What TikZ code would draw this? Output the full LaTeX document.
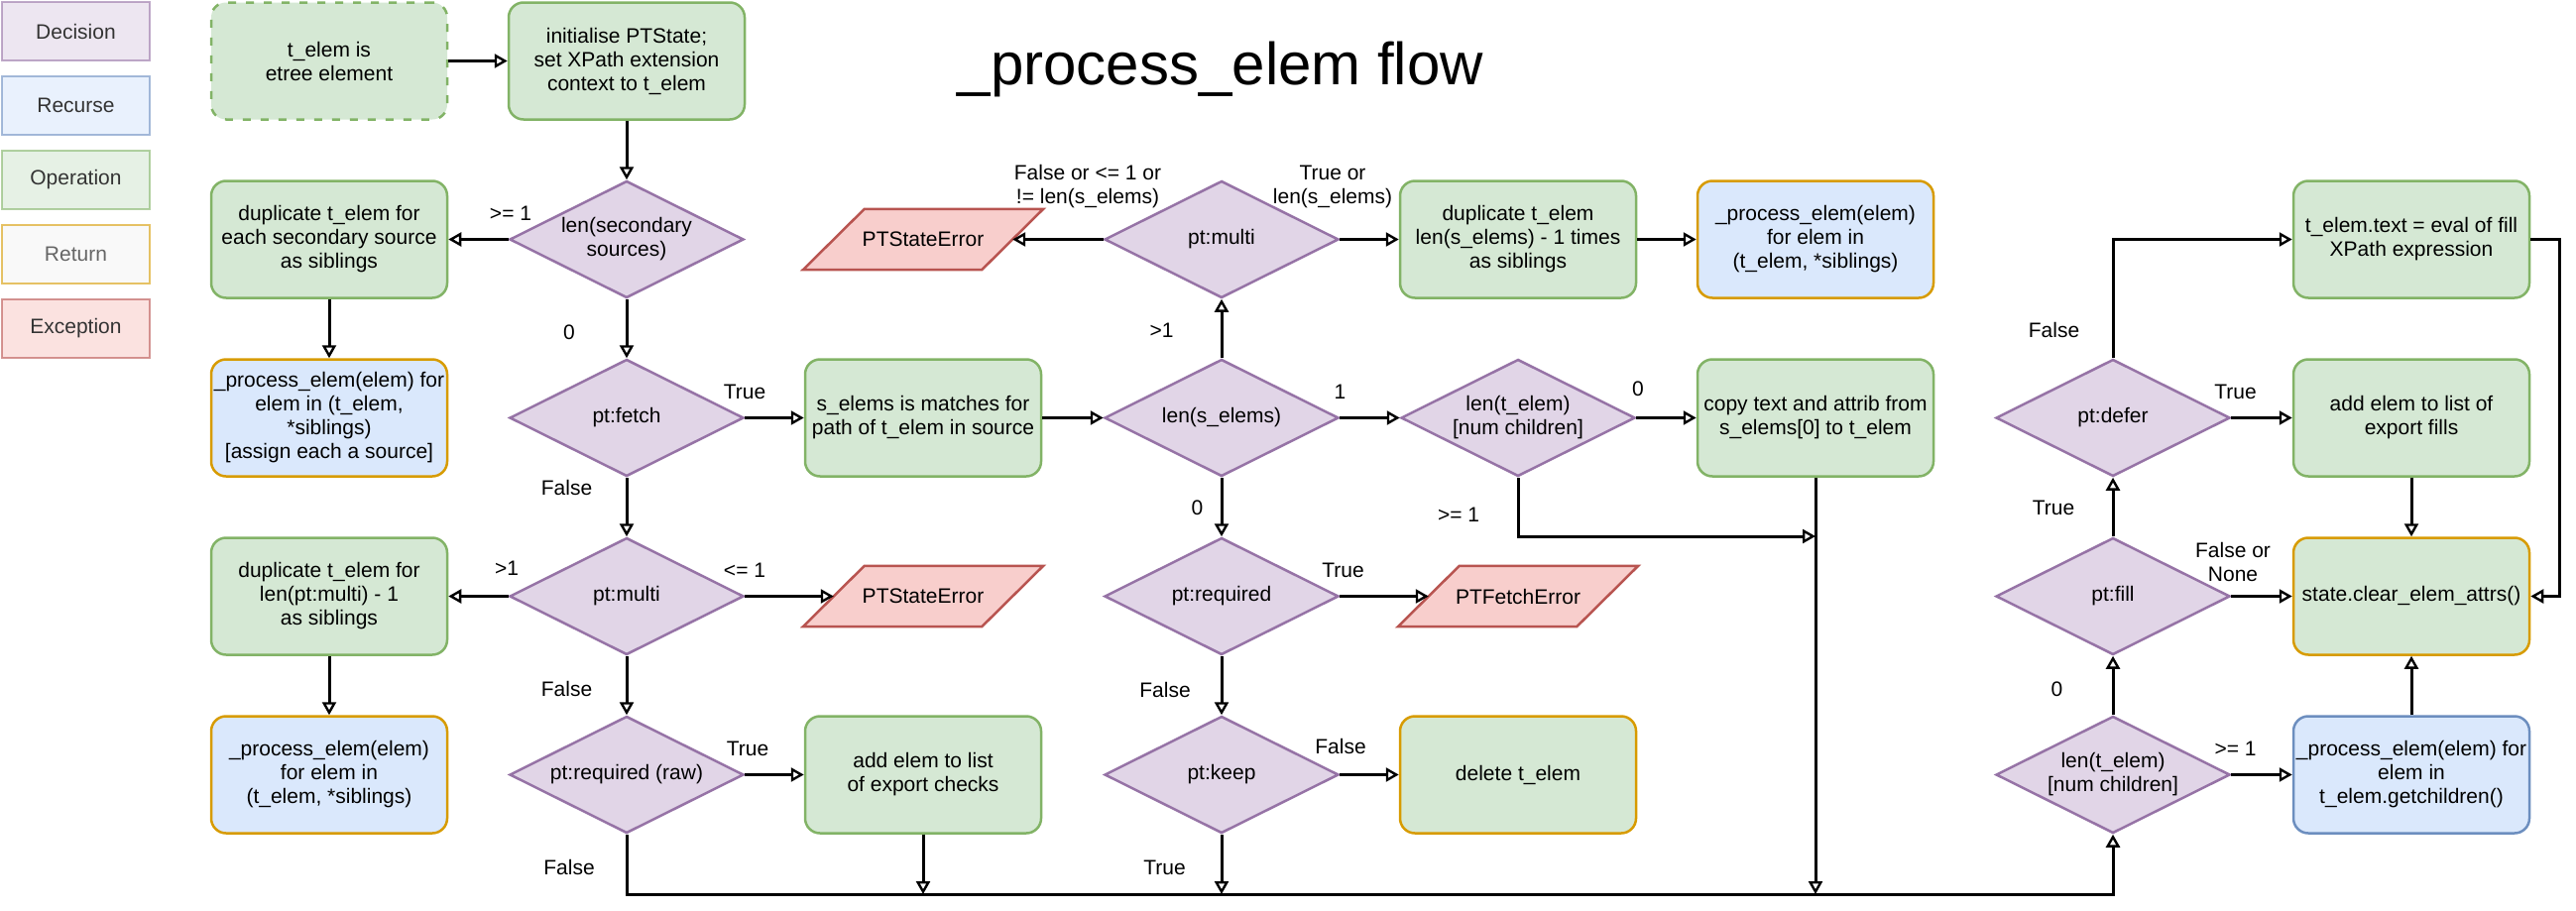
\documentclass[tikz,border=0pt]{standalone}
\usepackage{fontspec}
\setmainfont{Liberation Sans}
\usetikzlibrary{shapes.geometric,arrows.meta,backgrounds}
\definecolor{decF}{HTML}{E1D5E7}
\definecolor{decD}{HTML}{9673A6}
\definecolor{recF}{HTML}{DAE8FC}
\definecolor{recD}{HTML}{6C8EBF}
\definecolor{opF}{HTML}{D5E8D4}
\definecolor{opD}{HTML}{82B366}
\definecolor{retF}{HTML}{F5F5F5}
\definecolor{retD}{HTML}{D79B00}
\definecolor{excF}{HTML}{F8CECC}
\definecolor{excD}{HTML}{B85450}
\definecolor{legT}{HTML}{333333}
\definecolor{legR}{HTML}{666666}
\begin{document}
\begin{tikzpicture}[x=1pt,y=-1pt,
  every node/.style={font=\fontsize{21}{24}\selectfont, inner sep=0pt, align=center},
  box/.style={rectangle, rounded corners=15pt, minimum width=238pt, minimum height=118pt, line width=2.5pt},
  opbox/.style={box, fill=opF, draw=opD},
  recbox/.style={box, fill=recF, draw=retD},
  decis/.style={diamond, aspect=2, minimum width=236pt, minimum height=118pt, fill=decF, draw=decD, line width=2.5pt},
  legbox/.style={rectangle, minimum width=149pt, minimum height=59pt, line width=2.5pt, fill opacity=0.6, draw opacity=0.6, text opacity=1, text=legT},
  excbox/.style={rectangle, minimum width=180pt, minimum height=61pt},
  excshape/.style={fill=excF, draw=excD, line width=2.5pt},
  edge/.style={line width=3pt, -{Triangle[open, fill=white, length=13pt, width=14pt, line width=2.4pt]}},
  lbl/.style={font=\fontsize{21}{24}\selectfont}
]
\useasboundingbox (0,0) rectangle (2598,918);

% legend
\node[legbox, fill=decF, draw=decD] (lgdec) at (76.5,31.5) {Decision};
\node[legbox, fill=recF, draw=recD] (lgrec) at (76.5,106.5) {Recurse};
\node[legbox, fill=opF, draw=opD] (lgop) at (76.5,181.5) {Operation};
\node[legbox, fill=retF, draw=retD, text=legR] (lgret) at (76.5,256.5) {Return};
\node[legbox, fill=excF, draw=excD] (lgexc) at (76.5,331.5) {Exception};

% title
\node[font=\fontsize{60}{70}\selectfont, anchor=base] (title) at (1231,85) {\_process\_elem flow};

% column 1 & 2
\node[opbox, dash pattern=on 8pt off 10pt] (telem) at (332,61.5) {t\_elem is\\etree element};
\node[opbox] (init) at (632,61.5) {initialise PTState;\\set XPath extension\\context to t\_elem};
\node[decis] (lensec) at (632,241.5) {len(secondary\\sources)};
\node[opbox] (dupsec) at (332,241.5) {duplicate t\_elem for\\each secondary source\\as siblings};
\node[recbox] (procsec) at (332,421.5) {\_process\_elem(elem) for\\elem in (t\_elem,\\*siblings)\\{}[assign each a source]};
\node[decis] (fetch) at (632,421.5) {pt:fetch};
\node[decis] (multi1) at (632,601.5) {pt:multi};
\node[opbox] (dupmulti) at (332,601.5) {duplicate t\_elem for\\len(pt:multi) - 1\\as siblings};
\node[recbox] (procmulti) at (332,781.5) {\_process\_elem(elem)\\for elem in\\(t\_elem, *siblings)};
\node[decis] (reqraw) at (632,781.5) {pt:required (raw)};

% column 3
\node[excbox] (err2) at (931,241.5) {PTStateError};
\node[opbox] (smatch) at (931,421.5) {s\_elems is matches for\\path of t\_elem in source};
\node[excbox] (err1) at (931,601.5) {PTStateError};
\node[opbox] (exportchk) at (931,781.5) {add elem to list\\of export checks};

% column 4
\node[decis] (multi2) at (1232,241.5) {pt:multi};
\node[decis] (lens) at (1232,421.5) {len(s\_elems)};
\node[decis] (req) at (1232,601.5) {pt:required};
\node[decis] (keep) at (1232,781.5) {pt:keep};

% column 5
\node[opbox] (dupse) at (1531,241.5) {duplicate t\_elem\\len(s\_elems) - 1 times\\as siblings};
\node[decis] (lent1) at (1531,421.5) {len(t\_elem)\\{}[num children]};
\node[excbox] (fetcherr) at (1531,601.5) {PTFetchError};
\node[box, fill=opF, draw=retD] (delete) at (1531,781.5) {delete t\_elem};

% column 6
\node[recbox] (procse) at (1831,241.5) {\_process\_elem(elem)\\for elem in\\(t\_elem, *siblings)};
\node[opbox] (copy) at (1831,421.5) {copy text and attrib from\\s\_elems[0] to t\_elem};

% column 7
\node[decis] (defer) at (2131,421.5) {pt:defer};
\node[decis] (fill) at (2131,601.5) {pt:fill};
\node[decis] (lent2) at (2131,781.5) {len(t\_elem)\\{}[num children]};

% column 8
\node[opbox] (evalfill) at (2432,241.5) {t\_elem.text = eval of fill\\XPath expression};
\node[opbox] (expfills) at (2432,421.5) {add elem to list of\\export fills};
\node[box, fill=opF, draw=retD] (clear) at (2432,601.5) {state.clear\_elem\_attrs()};
\node[box, fill=recF, draw=recD] (procchild) at (2432,781.5) {\_process\_elem(elem) for\\elem in\\t\_elem.getchildren()};

% parallelogram outlines
\begin{pgfonlayer}{background}
\foreach \n in {err1,err2,fetcherr}{
  \draw[excshape] ([xshift=31pt]\n.north west) -- ([xshift=31pt]\n.north east)
     -- ([xshift=-31pt]\n.south east) -- ([xshift=-31pt]\n.south west) -- cycle;
}
\end{pgfonlayer}

% junction coordinates
\coordinate (bot) at (632,902);
\coordinate (j1) at (1831,541);

% edges
\draw[edge] (telem.east) -- (init.west);
\draw[edge] (init.south) -- (lensec.north);
\draw[edge] (lensec.west) -- (dupsec.east);
\draw[edge] (lensec.south) -- (fetch.north);
\draw[edge] (dupsec.south) -- (procsec.north);
\draw[edge] (fetch.east) -- (smatch.west);
\draw[edge] (fetch.south) -- (multi1.north);
\draw[edge] (multi1.west) -- (dupmulti.east);
\draw[edge] (multi1.east) -- (err1.west);
\draw[edge] (multi1.south) -- (reqraw.north);
\draw[edge] (dupmulti.south) -- (procmulti.north);
\draw[edge] (reqraw.east) -- (exportchk.west);
\draw[edge] (reqraw.south) -- (bot) -| (lent2.south);
\draw[edge] (exportchk.south) -- (exportchk.south |- bot);
\draw[edge] (smatch.east) -- (lens.west);
\draw[edge] (lens.north) -- (multi2.south);
\draw[edge] (lens.east) -- (lent1.west);
\draw[edge] (lens.south) -- (req.north);
\draw[edge] (multi2.west) -- (err2.east);
\draw[edge] (multi2.east) -- (dupse.west);
\draw[edge] (dupse.east) -- (procse.west);
\draw[edge] (lent1.east) -- (copy.west);
\draw[edge] (lent1.south) |- (j1);
\draw[edge] (copy.south) -- (copy.south |- bot);
\draw[edge] (req.east) -- (fetcherr.west);
\draw[edge] (req.south) -- (keep.north);
\draw[edge] (keep.east) -- (delete.west);
\draw[edge] (keep.south) -- (keep.south |- bot);
\draw[edge] (lent2.north) -- (fill.south);
\draw[edge] (lent2.east) -- (procchild.west);
\draw[edge] (procchild.north) -- (clear.south);
\draw[edge] (fill.east) -- (clear.west);
\draw[edge] (fill.north) -- (defer.south);
\draw[edge] (defer.east) -- (expfills.west);
\draw[edge] (defer.north) |- (evalfill.west);
\draw[edge] (expfills.south) -- (clear.north);
\draw[edge] (evalfill.east) -- ++(29,0) |- (clear.east);

% edge labels
\node[lbl] (la1) at (515,215) {>= 1};
\node[lbl] (la2) at (574,335) {0};
\node[lbl] (la3) at (751,395) {True};
\node[lbl] (la4) at (571.5,491.5) {False};
\node[lbl] (la5) at (511,573) {>1};
\node[lbl] (la6) at (751,575) {<= 1};
\node[lbl] (la7) at (571.5,695) {False};
\node[lbl] (la8) at (754,755) {True};
\node[lbl] (la9) at (574,875) {False};
\node[lbl] (lb1) at (1097,188.5) {False or <= 1 or\\!= len(s\_elems)};
\node[lbl] (lb2) at (1344,188.5) {True or\\len(s\_elems)};
\node[lbl] (lb3) at (1171.5,333) {>1};
\node[lbl] (lb4) at (1351.5,395.5) {1};
\node[lbl] (lb5) at (1207.5,512) {0};
\node[lbl] (lb6) at (1652,392) {0};
\node[lbl] (lb7) at (1471,519) {>= 1};
\node[lbl] (lc1) at (1354.5,575.5) {True};
\node[lbl] (lc2) at (1175,695.5) {False};
\node[lbl] (lc3) at (1352,752.5) {False};
\node[lbl] (lc4) at (1174.5,875.5) {True};
\node[lbl] (ld1) at (2071.5,332.5) {False};
\node[lbl] (ld2) at (2254.5,395.5) {True};
\node[lbl] (ld3) at (2071,512.5) {True};
\node[lbl] (ld4) at (2252,567) {False or\\None};
\node[lbl] (ld5) at (2074.5,695.5) {0};
\node[lbl] (ld6) at (2254.5,755.5) {>= 1};
\end{tikzpicture}
\end{document}
